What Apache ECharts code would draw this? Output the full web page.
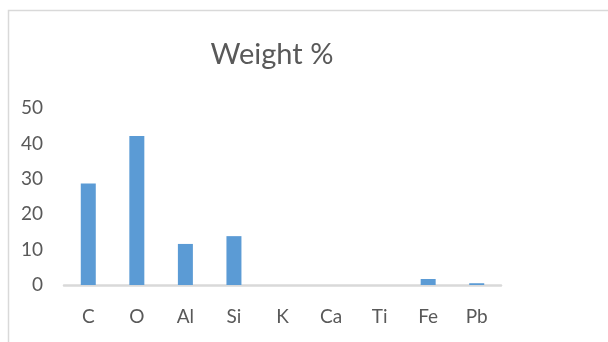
<!DOCTYPE html>
<html>
<head>
<meta charset="utf-8">
<script src="https://cdn.jsdelivr.net/npm/echarts@6/dist/echarts.min.js"></script>
<style>
  html, body { margin: 0; padding: 0; background: #ffffff; }
  #chart { width: 608px; height: 342px; }
</style>
</head>
<body>
<div id="chart"></div>
<script>
// Element symbols along the x axis
const elements = ['C', 'O', 'Al', 'Si', 'K', 'Ca', 'Ti', 'Fe', 'Pb'];
// Weight percentage of each element
const weightPct = [28.7, 42.1, 11.6, 13.8, 0, 0, 0, 1.7, 0.5];
// Value axis range
const yMin = 0;
const yMax = 50;
const yStep = 10;

const chart = echarts.init(document.getElementById('chart'), null, { renderer: 'canvas' });
const textColor = '#595959';
const fontFamily = 'Lato, "Open Sans", sans-serif';

chart.setOption({
  animation: false,
  backgroundColor: '#ffffff',
  title: {
    text: 'Weight %',
    left: 267,
    top: 35,
    textAlign: 'center',
    textStyle: { color: textColor, fontFamily: fontFamily, fontSize: 29, fontWeight: 'normal' }
  },
  graphic: [{
    type: 'rect',
    shape: { x: 8.5, y: 10.5, width: 640, height: 360 },
    style: { fill: 'none', stroke: '#d9d9d9', lineWidth: 1.5 },
    silent: true,
    z: -1
  }],
  grid: { left: 64, right: 107, top: 108, bottom: 57, containLabel: false },
  xAxis: {
    type: 'category',
    data: elements,
    axisLine: { show: true, lineStyle: { color: '#d9d9d9', width: 2.5 } },
    axisTick: { show: false },
    axisLabel: { color: textColor, fontFamily: fontFamily, fontSize: 19, margin: 22 }
  },
  yAxis: {
    type: 'value',
    min: yMin,
    max: yMax,
    interval: yStep,
    axisLine: { show: false },
    axisTick: { show: false },
    splitLine: { show: false },
    axisLabel: { color: textColor, fontFamily: fontFamily, fontSize: 19, margin: 21 }
  },
  series: [{
    type: 'bar',
    data: weightPct,
    barWidth: 15,
    itemStyle: { color: '#5b9bd5' }
  }]
});
</script>
</body>
</html>
